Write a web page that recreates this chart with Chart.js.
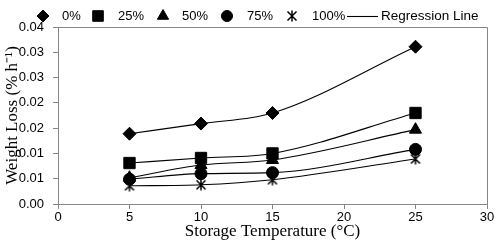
<!DOCTYPE html>
<html>
<head>
<meta charset="utf-8">
<script src="https://cdn.jsdelivr.net/npm/chart.js@4/dist/chart.umd.min.js"></script>
<style>
  html, body { margin: 0; padding: 0; background: #fff; }
  canvas { display: block; }
</style>
</head>
<body>
<canvas id="chart" width="500" height="242"></canvas>
<script>
// storage temperatures (°C)
const temps = [5, 10, 15, 25];

// weight loss (% h-1) per coating level
const loss0 = [0.0139, 0.0159, 0.0180, 0.0311];
const loss25 = [0.0081, 0.0091, 0.0100, 0.0180];
const loss50 = [0.0052, 0.0077, 0.0087, 0.0147];
const loss75 = [0.0049, 0.0060, 0.0062, 0.0108];
const loss100 = [0.0036, 0.0038, 0.0048, 0.0089];

const seriesNames = ["0%", "25%", "50%", "75%", "100%"];
const xTickLabels = ["0", "5", "10", "15", "20", "25", "30"];
const yTickLabels = ["0.00", "0.01", "0.01", "0.02", "0.02", "0.03", "0.03", "0.04"];

const AXIS = "#868686";
const TICK_FONT = { family: "'Liberation Sans', Arial, sans-serif", size: 13 };
const TITLE_FONT = { family: "'Liberation Serif', 'Times New Roman', serif", size: 17 };

// asterisk marker (X with a vertical bar), Excel style
function makeStar(size) {
  const c = document.createElement("canvas");
  c.width = size; c.height = size;
  const g = c.getContext("2d");
  g.strokeStyle = "#000";
  g.lineWidth = 1.5;
  const m = 1.5, s = size - 1.5;
  g.beginPath();
  g.moveTo(m, m); g.lineTo(s, s);
  g.moveTo(s, m); g.lineTo(m, s);
  g.moveTo(size / 2, 0.5); g.lineTo(size / 2, size - 0.5);
  g.stroke();
  return c;
}
const starImg = makeStar(12);

const styles = [
  { pointStyle: "rectRot", radius: 6.5 },
  { pointStyle: "rect", radius: 8 },
  { pointStyle: "triangle", radius: 7 },
  { pointStyle: "circle", radius: 6 },
  { pointStyle: starImg, radius: 6 }
];

const values = [loss0, loss25, loss50, loss75, loss100];

const datasets = values.map((arr, i) => ({
  label: seriesNames[i],
  data: temps.map((t, j) => ({ x: t, y: arr[j] })),
  showLine: true,
  borderColor: "#000",
  borderWidth: 1.1,
  backgroundColor: "#000",
  pointBackgroundColor: "#000",
  pointBorderColor: "#000",
  pointBorderWidth: 1,
  pointStyle: styles[i].pointStyle,
  pointRadius: styles[i].radius,
  cubicInterpolationMode: "monotone"
}));

// plot frame (top + right edges)
const framePlugin = {
  id: "frame",
  beforeDatasetsDraw(chart) {
    const { ctx, chartArea: a } = chart;
    ctx.save();
    ctx.strokeStyle = AXIS;
    ctx.lineWidth = 1;
    ctx.beginPath();
    ctx.moveTo(Math.round(a.left) + 0.5, Math.round(a.top) + 0.5);
    ctx.lineTo(Math.round(a.right) + 0.5, Math.round(a.top) + 0.5);
    ctx.lineTo(Math.round(a.right) + 0.5, Math.round(a.bottom) + 0.5);
    ctx.stroke();
    ctx.restore();
  }
};

// legend row across the top
const legendPlugin = {
  id: "topLegend",
  afterDraw(chart) {
    const ctx = chart.ctx;
    const y = 16;
    const markerX = [43, 98, 163, 227, 292];
    const textX = [62, 118, 182, 247, 312];
    ctx.save();
    ctx.font = TICK_FONT.size + "px " + TICK_FONT.family;
    ctx.textBaseline = "middle";
    ctx.textAlign = "left";
    seriesNames.forEach((name, i) => {
      ctx.fillStyle = "#000";
      ctx.strokeStyle = "#000";
      Chart.helpers.drawPoint(ctx, {
        pointStyle: styles[i].pointStyle,
        radius: styles[i].radius - 0.5,
        borderWidth: 1,
        rotation: 0
      }, markerX[i], y);
      ctx.fillStyle = "#000";
      ctx.fillText(name, textX[i], y + 0.5);
    });
    ctx.strokeStyle = "#000";
    ctx.lineWidth = 1.1;
    ctx.beginPath();
    ctx.moveTo(347, y + 0.5);
    ctx.lineTo(378, y + 0.5);
    ctx.stroke();
    ctx.font = "13.5px " + TICK_FONT.family;
    ctx.fillText("Regression Line", 381, y + 0.5);
    ctx.restore();
  }
};

new Chart(document.getElementById("chart"), {
  type: "scatter",
  data: { datasets },
  options: {
    responsive: false,
    animation: false,
    devicePixelRatio: 1,
    layout: { padding: { top: 27, right: 13, left: 0, bottom: 0 } },
    plugins: {
      legend: { display: false },
      tooltip: { enabled: false }
    },
    scales: {
      x: {
        type: "linear",
        min: 0,
        max: 30,
        afterFit: s => { s.height = 38; },
        ticks: {
          stepSize: 5,
          padding: 1,
          color: "#000",
          font: TICK_FONT,
          callback: (v, i) => xTickLabels[i]
        },
        grid: { drawOnChartArea: false, color: AXIS, tickLength: 5 },
        border: { color: AXIS },
        title: {
          display: true,
          text: "Storage Temperature (°C)",
          color: "#000",
          font: TITLE_FONT,
          padding: { top: 0, bottom: 0 }
        }
      },
      y: {
        min: 0,
        max: 0.035,
        afterFit: s => { s.width = 58; },
        ticks: {
          stepSize: 0.005,
          padding: 9,
          color: "#000",
          font: TICK_FONT,
          callback: (v, i) => yTickLabels[i]
        },
        grid: { drawOnChartArea: false, color: AXIS, tickLength: 5 },
        border: { color: AXIS },
        title: {
          display: true,
          text: "Weight Loss (% h\u207B\u00B9)",
          color: "#000",
          font: TITLE_FONT,
          padding: { top: 2, bottom: 0 }
        }
      }
    }
  },
  plugins: [framePlugin, legendPlugin]
});
</script>
</body>
</html>
